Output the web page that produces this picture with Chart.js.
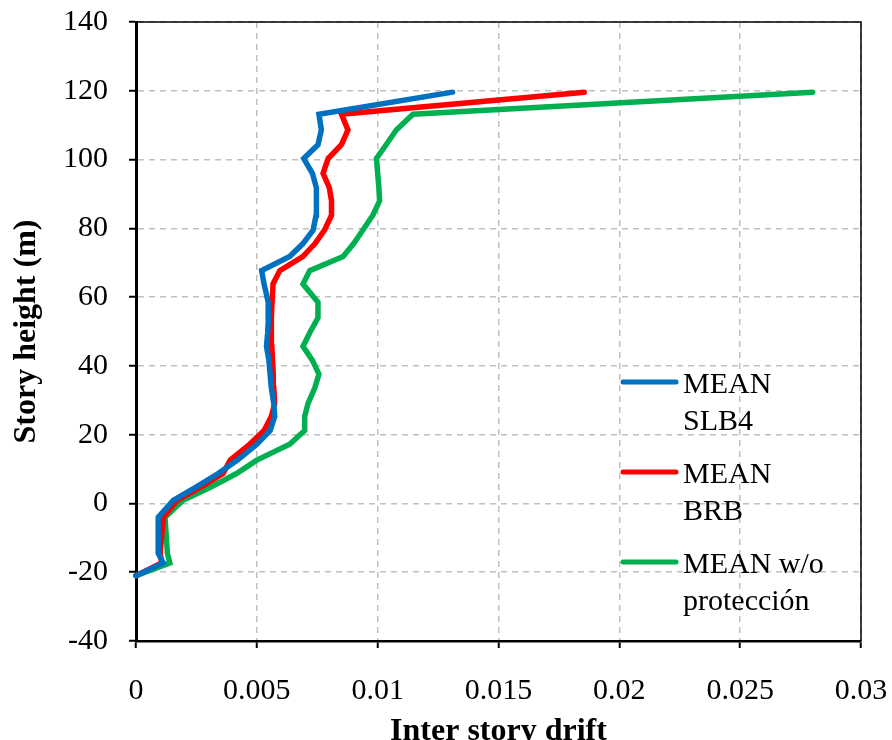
<!DOCTYPE html>
<html>
<head>
<meta charset="utf-8">
<script src="https://cdn.jsdelivr.net/npm/chart.js@4.4.1/dist/chart.umd.min.js"></script>
<style>
  html, body { margin: 0; padding: 0; background: #fff; }
  #wrap { width: 892px; height: 740px; }
</style>
</head>
<body>
<div id="wrap"><canvas id="driftChart" width="892" height="740"></canvas></div>
<script>
// story levels (m), shared by the three envelopes
const storyHeights = [-21, -17.3, -14.5, -4, 0.9, 4.8, 8.7, 12.6, 17.2, 21.2, 25.3, 29.1, 33.6, 37.6,
  41.6, 45.7, 49.8, 54.0, 58.5, 63.8, 67.7, 71.8, 75.5, 79.5, 83.8, 88.0, 91.8, 96.0, 100.3, 104.3,
  108.6, 113.2, 119.6];

// mean inter story drift per level
const driftSLB4 = [0, 0.00113, 0.00092, 0.00092, 0.00154, 0.0025, 0.0034, 0.0042, 0.0050, 0.00555,
  0.00574, 0.0057, 0.0056, 0.00555, 0.0055, 0.0054, 0.00545, 0.00548, 0.00547, 0.0053, 0.0052,
  0.00636, 0.0069, 0.00733, 0.00745, 0.00748, 0.00745, 0.0073, 0.00694, 0.00753, 0.00767, 0.00757,
  0.0131];
const driftBRB = [0, 0.00106, 0.0010, 0.00113, 0.0017, 0.0027, 0.0036, 0.0039, 0.0047, 0.0053,
  0.0056, 0.00574, 0.0057, 0.00568, 0.00565, 0.00562, 0.0056, 0.0056, 0.00563, 0.00567, 0.00595,
  0.0069, 0.0074, 0.0078, 0.00809, 0.00809, 0.0080, 0.00774, 0.00795, 0.0085, 0.00877, 0.0085,
  0.01855];
const driftNoProt = [0, 0.0014, 0.0013, 0.0012, 0.00195, 0.0031, 0.00416, 0.0050, 0.00636, 0.00698,
  0.00698, 0.00712, 0.0074, 0.00757, 0.0073, 0.00691, 0.0072, 0.00753, 0.00753, 0.00691, 0.00719,
  0.00857, 0.0090, 0.00939, 0.0098, 0.01008, 0.01005, 0.0100, 0.00995, 0.01035, 0.01077, 0.01146,
  0.0280];

const seriesLabels = ['MEAN\nSLB4', 'MEAN\nBRB', 'MEAN w/o\nprotección'];
const seriesColors = ['#0070C0', '#FF0000', '#00B050'];

const xTickLabels = ['0', '0.005', '0.01', '0.015', '0.02', '0.025', '0.03'];
const yTickLabels = ['-40', '-20', '0', '20', '40', '60', '80', '100', '120', '140'];

const FONT = "'Liberation Serif', 'Times New Roman', serif";

function toPoints(drifts) {
  return drifts.map((d, i) => ({ x: d, y: storyHeights[i] }));
}

// legend drawn inside the plot, two text lines per entry
const insideLegend = {
  id: 'insideLegend',
  afterDatasetsDraw(chart) {
    const ctx = chart.ctx;
    ctx.save();
    ctx.font = '30px ' + FONT;
    ctx.textBaseline = 'alphabetic';
    ctx.fillStyle = '#000';
    chart.data.datasets.forEach((ds, i) => {
      const y = 382 + i * 90;
      ctx.strokeStyle = ds.borderColor;
      ctx.lineWidth = 5;
      ctx.lineCap = 'round';
      ctx.beginPath();
      ctx.moveTo(623, y);
      ctx.lineTo(676, y);
      ctx.stroke();
      ds.label.split('\n').forEach((line, k) => {
        ctx.fillText(line, 683, y + 11 + k * 37);
      });
    });
    ctx.restore();
  }
};

// thin frame on top and right of the plot area
const plotFrame = {
  id: 'plotFrame',
  beforeDatasetsDraw(chart) {
    const { left, right, top, bottom } = chart.chartArea;
    const ctx = chart.ctx;
    ctx.save();
    ctx.strokeStyle = '#000';
    ctx.lineWidth = 1.5;
    ctx.beginPath();
    ctx.moveTo(left, top);
    ctx.lineTo(right, top);
    ctx.lineTo(right, bottom);
    ctx.stroke();
    ctx.restore();
  }
};

// fixed axis boxes, no extra room for overhanging labels
function fixX(scale) {
  scale.height = 99;
  scale.paddingLeft = 0;
  scale.paddingRight = 0;
}
function fixY(scale) {
  scale.width = 136;
  scale.paddingTop = 0;
  scale.paddingBottom = 0;
}

const chart = new Chart(document.getElementById('driftChart'), {
  type: 'scatter',
  data: {
    datasets: [driftSLB4, driftBRB, driftNoProt].map((d, i) => ({
      label: seriesLabels[i],
      data: toPoints(d),
      showLine: true,
      borderColor: seriesColors[i],
      backgroundColor: seriesColors[i],
      borderWidth: 5.5,
      pointRadius: 0,
      tension: 0,
      borderJoinStyle: 'miter',
      borderCapStyle: 'round',
      clip: 6
    }))
  },
  options: {
    responsive: false,
    devicePixelRatio: 1,
    animation: false,
    layout: { padding: { top: 22, right: 31, left: 0, bottom: 0 } },
    plugins: {
      legend: { display: false },
      tooltip: { enabled: false }
    },
    scales: {
      x: {
        type: 'linear',
        min: 0,
        max: 0.03,
        afterFit: fixX,
        ticks: {
          stepSize: 0.005,
          padding: 25,
          color: '#000',
          font: { family: FONT, size: 30 },
          callback: (v, i) => xTickLabels[i]
        },
        grid: { color: '#c0c0c0', lineWidth: 1.5, tickColor: '#000', tickLength: 7, tickWidth: 2 },
        border: { color: '#000', width: 2.5, dash: [6, 5] },
        title: {
          display: true,
          text: 'Inter story drift',
          color: '#000',
          font: { family: FONT, size: 32, weight: 'bold' },
          padding: { top: 0, bottom: -11 }
        }
      },
      y: {
        type: 'linear',
        min: -40,
        max: 140,
        afterFit: fixY,
        ticks: {
          stepSize: 20,
          padding: 21,
          color: '#000',
          font: { family: FONT, size: 30 },
          callback: (v, i) => yTickLabels[i]
        },
        grid: { color: '#c0c0c0', lineWidth: 1.5, tickColor: '#000', tickLength: 7, tickWidth: 2 },
        border: { color: '#000', width: 3, dash: [6, 5] },
        title: {
          display: true,
          text: 'Story height (m)',
          color: '#000',
          font: { family: FONT, size: 32, weight: 'bold' },
          padding: { top: 8, bottom: 0 }
        }
      }
    }
  },
  plugins: [plotFrame, insideLegend]
});
</script>
</body>
</html>
